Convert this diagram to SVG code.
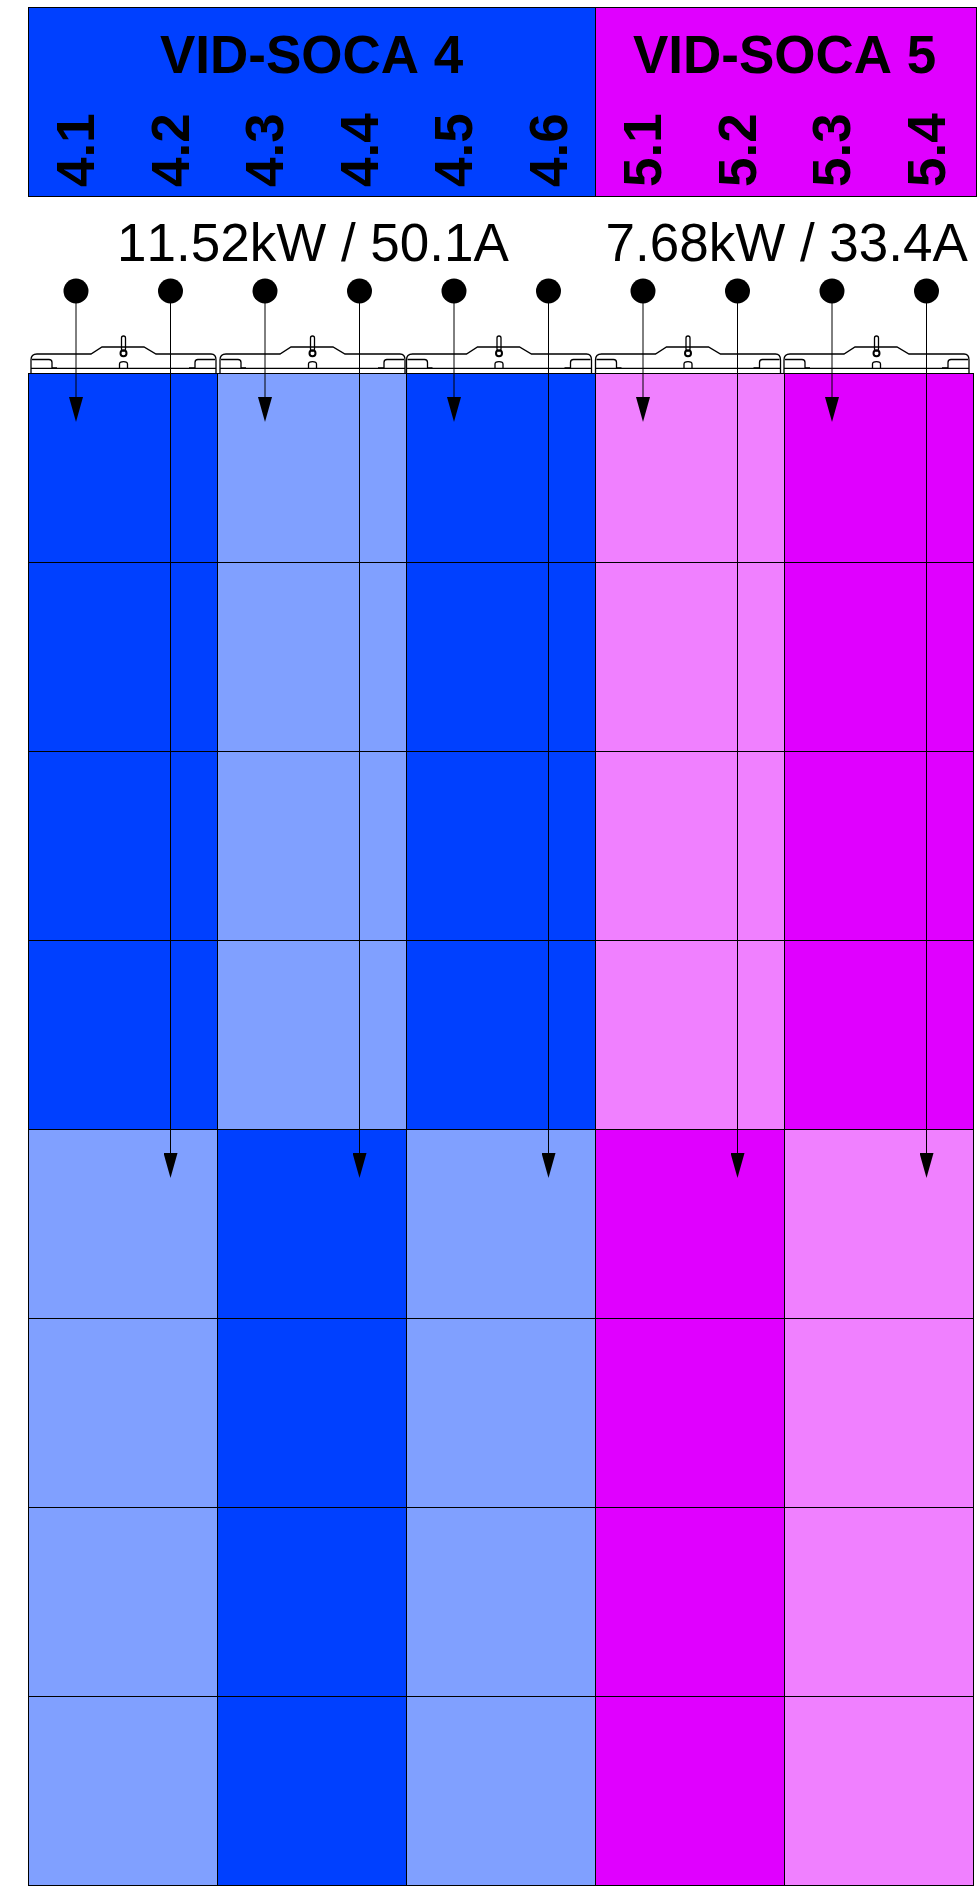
<svg xmlns="http://www.w3.org/2000/svg" width="980" height="1888" viewBox="0 0 980 1888">
<style>
text{font-family:"Liberation Sans",Arial,sans-serif;font-size:53px;fill:#000;font-kerning:none}
.b{font-weight:bold}
.c{stroke:#000;stroke-width:1;fill:none;marker-end:url(#ah)}
.d{fill:#0040ff}.l{fill:#80a0ff}.m{fill:#e000ff}.p{fill:#f080ff}
.clip{fill:none;stroke:#000;stroke-width:1.3}
.h{stroke:#000;stroke-width:1}
</style>
<defs>
<marker id="ah" markerUnits="userSpaceOnUse" markerWidth="25" markerHeight="14" refX="0" refY="7" orient="auto"><path d="M0 0L25 7L0 14Z" fill="#000"/></marker>
<g id="clip" class="clip">
<path d="M0 373V360Q0 354 6 354H60L71 347H113L125 354H180Q185 354 185 360V373"/>
<path d="M0 368.300H185"/>
<path d="M1 359.500H18Q21 359.500 21 362.500V368H26M158 368H164V362.500Q164 359.500 167 359.500H184"/>
<path d="M88.500 368V364Q88.500 361.700 92.500 361.700Q96.500 361.700 96.500 364V368"/>
<rect x="90.500" y="336" width="4" height="15" rx="2"/>
<circle cx="92.500" cy="353.300" r="3" stroke-width="2"/>
</g>
</defs>
<g id="header">
<g id="soca4"><rect class="d h" x="28.500" y="7.500" width="567" height="189"/><text class="b" x="160" y="72.500">VID-SOCA 4</text></g>
<g id="soca5"><rect class="m h" x="595.500" y="7.500" width="381" height="189"/><text class="b" x="633" y="72.500">VID-SOCA 5</text></g>
<g id="labels">
<text class="b" transform="translate(94 187) rotate(-90)">4.1</text>
<text class="b" transform="translate(188.500 187) rotate(-90)">4.2</text>
<text class="b" transform="translate(283 187) rotate(-90)">4.3</text>
<text class="b" transform="translate(377.500 187) rotate(-90)">4.4</text>
<text class="b" transform="translate(472 187) rotate(-90)">4.5</text>
<text class="b" transform="translate(567 187) rotate(-90)">4.6</text>
<text class="b" transform="translate(661 187) rotate(-90)">5.1</text>
<text class="b" transform="translate(755.500 187) rotate(-90)">5.2</text>
<text class="b" transform="translate(850 187) rotate(-90)">5.3</text>
<text class="b" transform="translate(944.500 187) rotate(-90)">5.4</text>
</g>
</g>
<g id="power"><text x="117" y="260.500">11.52kW / 50.1A</text><text x="605.500" y="260.500">7.68kW / 33.4A</text></g>
<g id="clips">
<use href="#clip" x="31" y="0"/><use href="#clip" x="220" y="0"/><use href="#clip" x="406.500" y="0"/><use href="#clip" x="595.500" y="0"/><use href="#clip" x="784" y="0"/>
</g>
<g id="panels" stroke="#000" stroke-width="1">
<g id="col1"><rect class="d" x="28.500" y="373.500" width="189" height="189"/><rect class="d" x="28.500" y="562.500" width="189" height="189"/><rect class="d" x="28.500" y="751.500" width="189" height="189"/><rect class="d" x="28.500" y="940.500" width="189" height="189"/><rect class="l" x="28.500" y="1129.500" width="189" height="189"/><rect class="l" x="28.500" y="1318.500" width="189" height="189"/><rect class="l" x="28.500" y="1507.500" width="189" height="189"/><rect class="l" x="28.500" y="1696.500" width="189" height="189"/></g>
<g id="col2"><rect class="l" x="217.500" y="373.500" width="189" height="189"/><rect class="l" x="217.500" y="562.500" width="189" height="189"/><rect class="l" x="217.500" y="751.500" width="189" height="189"/><rect class="l" x="217.500" y="940.500" width="189" height="189"/><rect class="d" x="217.500" y="1129.500" width="189" height="189"/><rect class="d" x="217.500" y="1318.500" width="189" height="189"/><rect class="d" x="217.500" y="1507.500" width="189" height="189"/><rect class="d" x="217.500" y="1696.500" width="189" height="189"/></g>
<g id="col3"><rect class="d" x="406.500" y="373.500" width="189" height="189"/><rect class="d" x="406.500" y="562.500" width="189" height="189"/><rect class="d" x="406.500" y="751.500" width="189" height="189"/><rect class="d" x="406.500" y="940.500" width="189" height="189"/><rect class="l" x="406.500" y="1129.500" width="189" height="189"/><rect class="l" x="406.500" y="1318.500" width="189" height="189"/><rect class="l" x="406.500" y="1507.500" width="189" height="189"/><rect class="l" x="406.500" y="1696.500" width="189" height="189"/></g>
<g id="col4"><rect class="p" x="595.500" y="373.500" width="189" height="189"/><rect class="p" x="595.500" y="562.500" width="189" height="189"/><rect class="p" x="595.500" y="751.500" width="189" height="189"/><rect class="p" x="595.500" y="940.500" width="189" height="189"/><rect class="m" x="595.500" y="1129.500" width="189" height="189"/><rect class="m" x="595.500" y="1318.500" width="189" height="189"/><rect class="m" x="595.500" y="1507.500" width="189" height="189"/><rect class="m" x="595.500" y="1696.500" width="189" height="189"/></g>
<g id="col5"><rect class="m" x="784.500" y="373.500" width="189" height="189"/><rect class="m" x="784.500" y="562.500" width="189" height="189"/><rect class="m" x="784.500" y="751.500" width="189" height="189"/><rect class="m" x="784.500" y="940.500" width="189" height="189"/><rect class="p" x="784.500" y="1129.500" width="189" height="189"/><rect class="p" x="784.500" y="1318.500" width="189" height="189"/><rect class="p" x="784.500" y="1507.500" width="189" height="189"/><rect class="p" x="784.500" y="1696.500" width="189" height="189"/></g>
</g>
<g id="connectors">
<path class="c" d="M76 291V397"/><path class="c" d="M170.500 291V1153"/><path class="c" d="M265 291V397"/><path class="c" d="M359.500 291V1153"/><path class="c" d="M454 291V397"/><path class="c" d="M548.500 291V1153"/><path class="c" d="M643 291V397"/><path class="c" d="M737.500 291V1153"/><path class="c" d="M832 291V397"/><path class="c" d="M926.500 291V1153"/>
<g fill="#000"><circle cx="76" cy="291" r="12.500"/><circle cx="170.500" cy="291" r="12.500"/><circle cx="265" cy="291" r="12.500"/><circle cx="359.500" cy="291" r="12.500"/><circle cx="454" cy="291" r="12.500"/><circle cx="548.500" cy="291" r="12.500"/><circle cx="643" cy="291" r="12.500"/><circle cx="737.500" cy="291" r="12.500"/><circle cx="832" cy="291" r="12.500"/><circle cx="926.500" cy="291" r="12.500"/></g>
</g>
</svg>
